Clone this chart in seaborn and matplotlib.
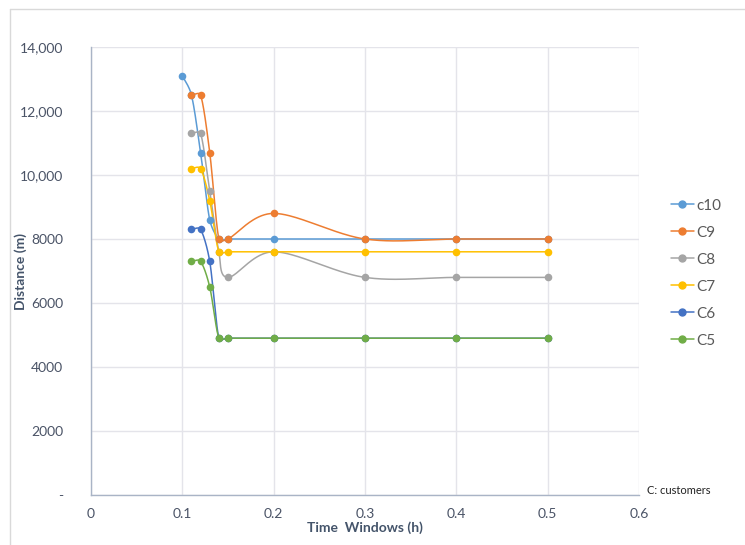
import numpy as np
import pandas as pd
import matplotlib
matplotlib.use("Agg")
import matplotlib.pyplot as plt
from matplotlib.lines import Line2D
from matplotlib.ticker import FuncFormatter, MultipleLocator
import seaborn as sns

# datos
x_c10 = [0.1, 0.11, 0.12, 0.13, 0.14, 0.15, 0.2, 0.3, 0.4, 0.5]
x_rest = [0.11, 0.12, 0.13, 0.14, 0.15, 0.2, 0.3, 0.4, 0.5]
c10 = [13100, 12500, 10700, 8600, 8000, 8000, 8000, 8000, 8000, 8000]
c9 = [12500, 12500, 10700, 8000, 8000, 8800, 8000, 8000, 8000]
c8 = [11300, 11300, 9500, 7600, 6800, 7600, 6800, 6800, 6800]
c7 = [10200, 10200, 9200, 7600, 7600, 7600, 7600, 7600, 7600]
c6 = [8300, 8300, 7300, 4900, 4900, 4900, 4900, 4900, 4900]
c5 = [7300, 7300, 6500, 4900, 4900, 4900, 4900, 4900, 4900]

series = [
    ('c10', x_c10, c10, '#5B9BD5'),
    ('C9', x_rest, c9, '#ED7D31'),
    ('C8', x_rest, c8, '#A5A5A5'),
    ('C7', x_rest, c7, '#FFC000'),
    ('C6', x_rest, c6, '#4472C4'),
    ('C5', x_rest, c5, '#70AD47'),
]

sns.set_style("white")
plt.rcParams['font.family'] = ['Lato', 'DejaVu Sans']

# escala aproximada en pixeles para suavizar como Excel
SX = 548 / 0.6
SY = 448 / 14000


def limitar(v, largo, frac=0.4):
    n = np.hypot(*v)
    tope = largo * frac
    if n > tope and n > 0:
        return v * tope / n
    return v


def suavizar(xs, ys, n=40):
    P = np.column_stack([np.array(xs) * SX, np.array(ys) * SY])
    pts = []
    t = np.linspace(0, 1, n)[:, None]
    for i in range(len(P) - 1):
        p0 = P[i - 1] if i > 0 else P[i]
        p3 = P[i + 2] if i + 2 < len(P) else P[i + 1]
        largo = np.hypot(*(P[i + 1] - P[i]))
        c1 = P[i] + limitar((P[i + 1] - p0) / 6, largo)
        c2 = P[i + 1] - limitar((p3 - P[i]) / 6, largo)
        b = ((1 - t) ** 3) * P[i] + 3 * ((1 - t) ** 2) * t * c1 + 3 * (1 - t) * t ** 2 * c2 + t ** 3 * P[i + 1]
        pts.append(b if i == 0 else b[1:])
    pts = np.vstack(pts)
    return pts[:, 0] / SX, pts[:, 1] / SY


fig = plt.figure(figsize=(7.45, 5.45), dpi=100)
ax = fig.add_axes([91 / 745, 50 / 545, 548 / 745, 448 / 545])

for nombre, xs, ys, color in series:
    sx, sy = suavizar(xs, ys)
    curva = pd.DataFrame({'x': sx, 'y': sy})
    sns.lineplot(data=curva, x='x', y='y', sort=False, estimator=None,
                 color=color, linewidth=1.1, ax=ax)
    puntos = pd.DataFrame({'x': xs, 'y': ys})
    sns.scatterplot(data=puntos, x='x', y='y', color=color, s=30,
                    linewidth=0, ax=ax, zorder=3)

ax.set_xlim(0, 0.6)
ax.set_ylim(0, 14000)
ax.xaxis.set_major_locator(MultipleLocator(0.1))
ax.yaxis.set_major_locator(MultipleLocator(2000))


def fmt_y(v, pos):
    if v == 0:
        return '-'
    if v >= 10000:
        return f'{int(v):,}'
    return f'{int(v)}'


ax.yaxis.set_major_formatter(FuncFormatter(fmt_y))
ax.xaxis.set_major_formatter(FuncFormatter(lambda v, p: '0' if abs(v) < 1e-9 else f'{v:.1f}'))

ax.grid(True, color='#E4E4EA', linewidth=1)
for lado in ['top', 'right']:
    ax.spines[lado].set_visible(False)
for lado in ['left', 'bottom']:
    ax.spines[lado].set_color('#A9B4C6')
    ax.spines[lado].set_linewidth(1)

ax.tick_params(axis='both', length=0, labelsize=10, labelcolor='#4A5366')
ax.tick_params(axis='y', pad=20)
ax.tick_params(axis='x', pad=9)

ax.set_xlabel('Time  Windows (h)', fontsize=10, fontweight='bold', color='#44546A', labelpad=1)
ax.set_ylabel('Distance (m)', fontsize=10, fontweight='bold', color='#44546A')
ax.yaxis.set_label_coords(-0.117, 0.5)

handles = [Line2D([], [], color=c, marker='o', markersize=5, linewidth=1.1) for _, _, _, c in series]
fig.legend(handles, [s[0] for s in series], loc='upper left',
           bbox_to_anchor=(657 / 745, 1 - 185 / 545), frameon=False,
           fontsize=11, labelcolor='#595959', handlelength=1.5,
           handletextpad=0.2, labelspacing=0.85)

fig.text(647 / 745, 1 - 490 / 545, 'C: customers', fontsize=8, color='#222222', va='center')

# borde del area del grafico
fig.add_artist(Line2D([10 / 745, 10 / 745], [0, 1 - 9 / 545], color='#D9D9D9', linewidth=1))
fig.add_artist(Line2D([10 / 745, 1], [1 - 9 / 545, 1 - 9 / 545], color='#D9D9D9', linewidth=1))

fig.savefig('out.png', dpi=100)
